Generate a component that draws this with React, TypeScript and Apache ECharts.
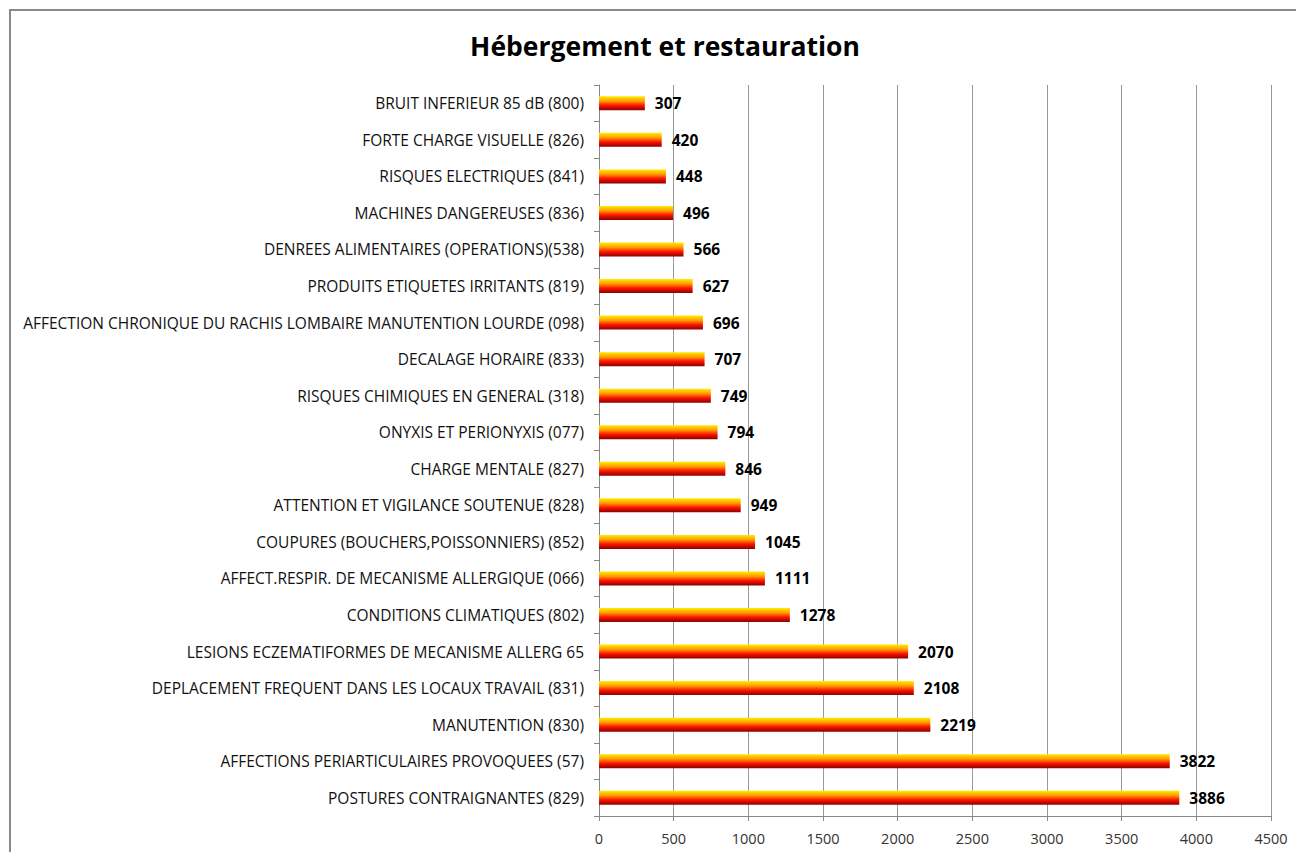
import React, { useEffect, useRef } from "react";
import * as echarts from "echarts";

const categories = [
  "POSTURES CONTRAIGNANTES (829)",
  "AFFECTIONS PERIARTICULAIRES PROVOQUEES (57)",
  "MANUTENTION (830)",
  "DEPLACEMENT FREQUENT DANS LES LOCAUX TRAVAIL (831)",
  "LESIONS ECZEMATIFORMES DE MECANISME ALLERG 65",
  "CONDITIONS CLIMATIQUES (802)",
  "AFFECT.RESPIR. DE MECANISME ALLERGIQUE (066)",
  "COUPURES (BOUCHERS,POISSONNIERS) (852)",
  "ATTENTION ET VIGILANCE SOUTENUE (828)",
  "CHARGE MENTALE (827)",
  "ONYXIS ET PERIONYXIS (077)",
  "RISQUES CHIMIQUES EN GENERAL (318)",
  "DECALAGE HORAIRE (833)",
  "AFFECTION CHRONIQUE DU RACHIS LOMBAIRE MANUTENTION LOURDE (098)",
  "PRODUITS ETIQUETES IRRITANTS (819)",
  "DENREES ALIMENTAIRES (OPERATIONS)(538)",
  "MACHINES DANGEREUSES (836)",
  "RISQUES ELECTRIQUES (841)",
  "FORTE CHARGE VISUELLE (826)",
  "BRUIT INFERIEUR 85 dB (800)",
];

const values = [3886, 3822, 2219, 2108, 2070, 1278, 1111, 1045, 949, 846, 794, 749, 707, 696, 627, 566, 496, 448, 420, 307];

const title = "Hébergement et restauration";
const xMin = 0;
const xMax = 4500;
const xInterval = 500;

export default function App() {
  const ref = useRef<HTMLDivElement>(null);
  useEffect(() => {
    if (!ref.current) return;
    const chart = echarts.init(ref.current, null, { renderer: "svg" });
    const font = "Open Sans, Noto Sans, sans-serif";
    chart.setOption({
      animation: false,
      backgroundColor: "#ffffff",
      title: {
        text: title,
        left: 660,
        textAlign: "center",
        top: 27,
        textStyle: { fontFamily: font, fontSize: 26.5, fontWeight: "bold", color: "#000" },
      },
      graphic: [
        {
          type: "rect",
          shape: { x: 10, y: 10, width: 1400, height: 900 },
          style: { fill: "none", stroke: "#8a8a8a", lineWidth: 2 },
          silent: true,
        },
      ],
      grid: { left: 599, right: 25, top: 85, bottom: 36, containLabel: false },
      xAxis: {
        type: "value",
        min: xMin,
        max: xMax,
        interval: xInterval,
        axisLine: { show: true, lineStyle: { color: "#888", width: 1 } },
        axisTick: { show: true, length: 5, lineStyle: { color: "#888" } },
        axisLabel: {
          fontFamily: font,
          fontSize: 14.5,
          color: "#333",
          margin: 15,
          formatter: (v: number) => String(v),
        },
        splitLine: { show: true, lineStyle: { color: "#999", width: 1 } },
      },
      yAxis: {
        type: "category",
        data: categories,
        axisLine: { show: true, lineStyle: { color: "#888", width: 1 } },
        axisTick: { show: true, length: 5, lineStyle: { color: "#888" } },
        axisLabel: { fontFamily: font, fontSize: 15.5, color: "#111", margin: 15 },
        splitLine: { show: false },
      },
      series: [
        {
          type: "bar",
          data: values,
          barWidth: 14,
          itemStyle: {
            color: new echarts.graphic.LinearGradient(0, 0, 0, 1, [
              { offset: 0, color: "#ffee00" },
              { offset: 0.35, color: "#ff9a00" },
              { offset: 0.65, color: "#ff1500" },
              { offset: 1, color: "#8a0000" },
            ]),
          },
          label: {
            show: true,
            position: "right",
            distance: 10,
            fontFamily: font,
            fontSize: 15.5,
            fontWeight: "bold",
            color: "#000",
          },
        },
      ],
    });
    return () => chart.dispose();
  }, []);
  return (
    <div
      ref={ref}
      style={{ position: "fixed", left: 0, top: 0, width: 1296, height: 852 }}
    />
  );
}
